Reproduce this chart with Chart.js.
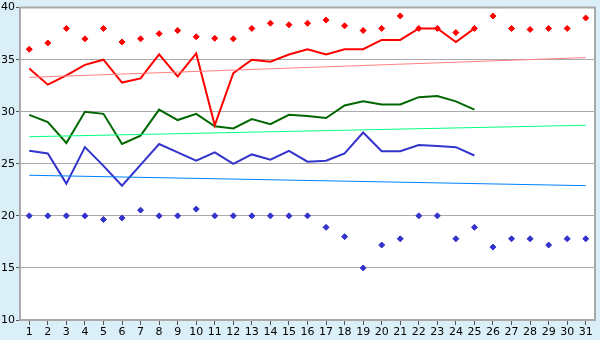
<!DOCTYPE html>
<html>
<head>
<meta charset="utf-8">
<script src="https://cdn.jsdelivr.net/npm/chart.js@4"></script>
<style>
  html, body { margin: 0; padding: 0; background: #daeff7; }
  #wrap { width: 600px; height: 340px; }
</style>
</head>
<body>
<div id="wrap"><canvas id="myChart" width="600" height="340"></canvas></div>
<script>
const days = ['1','2','3','4','5','6','7','8','9','10','11','12','13','14','15','16',
  '17','18','19','20','21','22','23','24','25','26','27','28','29','30','31'];

const maxTemps = [36, 36.6, 38, 37, 38, 36.7, 37, 37.5, 37.8, 37.2, 37.05, 37, 38, 38.5, 38.35, 38.5,
  38.8, 38.25, 37.8, 38, 39.2, 38, 38, 37.6, 38, 39.2, 38, 37.9, 38, 38, 39];
const highLine = [34.15, 32.6, 33.5, 34.5, 35, 32.8, 33.2, 35.5, 33.4, 35.6, 28.7, 33.7, 35, 34.8, 35.5, 36,
  35.5, 36, 36, 36.9, 36.9, 38, 38, 36.7, 38];
const meanLine = [29.7, 29, 27, 30, 29.8, 26.9, 27.7, 30.2, 29.2, 29.8, 28.6, 28.4, 29.3, 28.8, 29.7, 29.6,
  29.4, 30.6, 31, 30.7, 30.7, 31.4, 31.5, 31, 30.2];
const lowLine = [26.25, 26, 23.1, 26.6, 24.8, 22.9, 24.9, 26.9, 26.1, 25.3, 26.1, 25, 25.9, 25.4, 26.25, 25.2,
  25.3, 26, 28, 26.2, 26.2, 26.8, 26.7, 26.6, 25.8];
const minTemps = [20, 20, 20, 20, 19.65, 19.8, 20.55, 20, 20, 20.65, 20, 20, 20, 20, 20, 20,
  18.9, 18, 15, 17.2, 17.8, 20, 20, 17.8, 18.9, 17, 17.8, 17.8, 17.2, 17.8, 17.8];

// trend lines: start (day 1) and end (day 31) values
const highTrend = [33.3, 35.2];
const meanTrend = [27.6, 28.7];
const lowTrend = [23.9, 22.9];

const yTicks = [10, 15, 20, 25, 30, 35, 40];

function trendData(ends) {
  return days.map((d, i) => (i === 0 ? ends[0] : (i === days.length - 1 ? ends[1] : null)));
}

const plotBg = {
  id: 'plotBg',
  beforeDraw(chart) {
    const { ctx, chartArea: a } = chart;
    ctx.save();
    ctx.fillStyle = '#daeff7';
    ctx.fillRect(0, 0, chart.width, chart.height);
    ctx.fillStyle = '#ffffff';
    ctx.fillRect(a.left, a.top, a.right - a.left, a.bottom - a.top);
    ctx.restore();
  },
  afterDatasetsDraw(chart) {
    const { ctx, chartArea: a } = chart;
    ctx.save();
    ctx.strokeStyle = '#aaaaaa';
    ctx.lineWidth = 2;
    ctx.beginPath();
    ctx.moveTo(a.left, a.top);
    ctx.lineTo(a.right, a.top);
    ctx.lineTo(a.right, a.bottom);
    ctx.stroke();
    ctx.restore();
  }
};

const lineDs = (data, color) => ({
  type: 'line', data, borderColor: color, backgroundColor: color,
  borderWidth: 2, pointRadius: 0, tension: 0, fill: false
});
const trendDs = (ends, color) => ({
  type: 'line', data: trendData(ends), borderColor: color, backgroundColor: color,
  borderWidth: 1, pointRadius: 0, spanGaps: true, fill: false
});
const dotDs = (data, color) => ({
  type: 'line', data, showLine: false, borderColor: color, backgroundColor: color,
  pointStyle: 'rectRot', pointRadius: 3, pointBorderWidth: 1
});

const ctx = document.getElementById('myChart').getContext('2d');
new Chart(ctx, {
  data: {
    labels: days,
    datasets: [
      trendDs(highTrend, '#ff8080'),
      trendDs(meanTrend, '#00ff80'),
      trendDs(lowTrend, '#0080ff'),
      lineDs(highLine, '#ff0000'),
      lineDs(meanLine, '#006600'),
      lineDs(lowLine, '#3333cc'),
      dotDs(maxTemps, '#ff0000'),
      dotDs(minTemps, '#3333cc'),
    ],
  },
  options: {
    responsive: false,
    animation: false,
    layout: { padding: { top: 5, right: 5, left: 0, bottom: 0 } },
    plugins: { legend: { display: false }, tooltip: { enabled: false } },
    scales: {
      x: {
        offset: true,
        grid: { display: true, drawOnChartArea: false, drawTicks: true, tickLength: 5, color: '#555555', offset: false },
        border: { color: '#aaaaaa', width: 2 },
        ticks: { color: '#000000', padding: 1, maxRotation: 0, autoSkip: false, font: { family: 'DejaVu Sans', size: 11 } },
        afterFit(scale) { scale.height = 20; }
      },
      y: {
        min: 10, max: 40,
        afterBuildTicks(scale) { scale.ticks = yTicks.map(v => ({ value: v })); },
        grid: { color: '#aaaaaa', lineWidth: 1, tickLength: 4, tickColor: '#555555' },
        border: { color: '#aaaaaa', width: 2 },
        ticks: { color: '#000000', padding: 1, font: { family: 'DejaVu Sans', size: 11 } },
        afterFit(scale) { scale.width = 20; }
      }
    }
  },
  plugins: [plotBg]
});
</script>
</body>
</html>
